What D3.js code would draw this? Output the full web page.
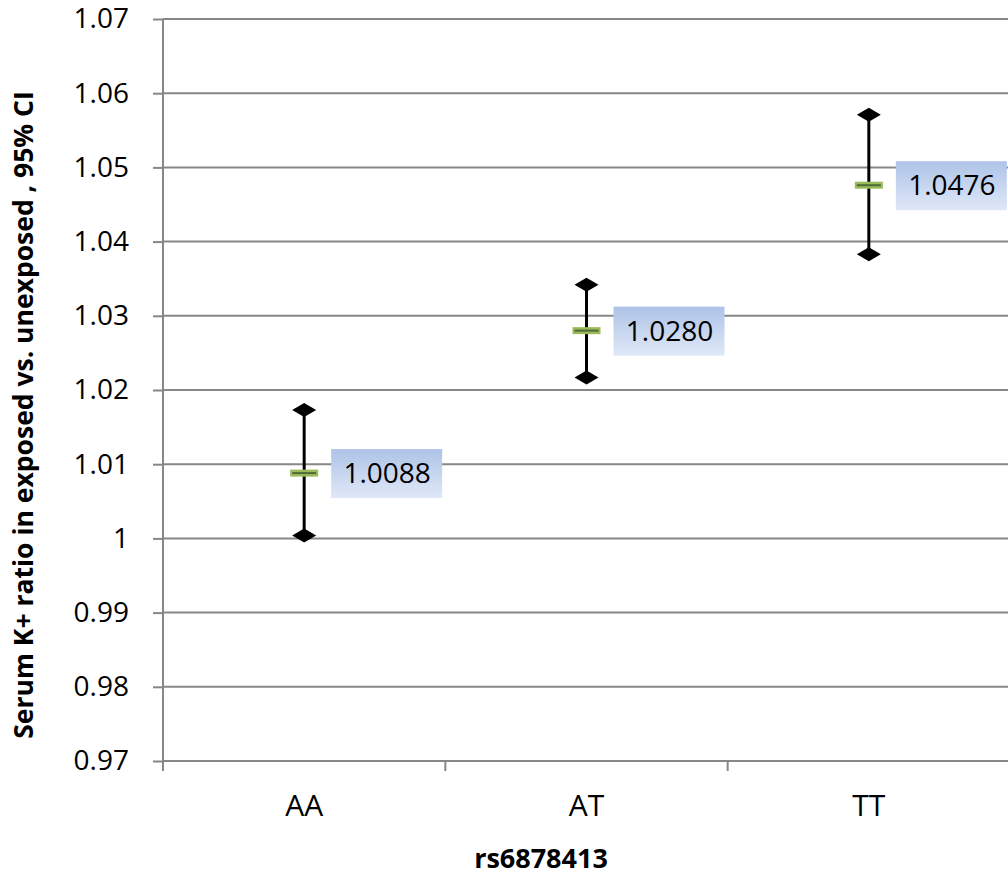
<!DOCTYPE html>
<html>
<head>
<meta charset="utf-8">
<script src="https://cdn.jsdelivr.net/npm/d3@7"></script>
<style>
  body { margin: 0; background: #fff; }
  svg { display: block; font-family: "Open Sans", "Liberation Sans", sans-serif; }
</style>
</head>
<body>
<svg id="chart"></svg>
<script>
// genotypes on the x axis
var genotypes = ["AA", "AT", "TT"];
// ratio point estimate and 95% CI bounds
var ratios = [1.0088, 1.0280, 1.0476];
var upperCI = [1.0173, 1.0342, 1.0571];
var lowerCI = [1.0004, 1.0217, 1.0383];
var labels = ["1.0088", "1.0280", "1.0476"];
var yTicks = [0.97, 0.98, 0.99, 1, 1.01, 1.02, 1.03, 1.04, 1.05, 1.06, 1.07];

var svgWidth = 1008, svgHeight = 876;
var margin = {top: 19, right: -2, bottom: 115, left: 163};
var width = svgWidth - margin.left - margin.right;
var height = svgHeight - margin.top - margin.bottom;

var svg = d3.select("#chart").attr("width", svgWidth).attr("height", svgHeight);

var defs = svg.append("defs");
var grad = defs.append("linearGradient").attr("id", "lblGrad")
    .attr("x1", 0).attr("y1", 0).attr("x2", 0).attr("y2", 1);
grad.append("stop").attr("offset", "0%").attr("stop-color", "#aec3e8");
grad.append("stop").attr("offset", "100%").attr("stop-color", "#dfe8f7");

var g = svg.append("g").attr("transform", "translate(" + margin.left + "," + margin.top + ")");

var x = d3.scaleBand().domain(genotypes).range([0, width]);
var y = d3.scaleLinear().domain([0.97, 1.07]).range([height, 0]);

// gridlines
g.append("g").selectAll("line")
  .data(yTicks.slice(1))
  .enter().append("line")
    .attr("x1", 0).attr("x2", width)
    .attr("y1", function(d) { return y(d); })
    .attr("y2", function(d) { return y(d); })
    .attr("stroke", "#878787").attr("stroke-width", 2);

// y axis
var yAxis = g.append("g")
  .call(d3.axisLeft(y).tickValues(yTicks).tickSize(10).tickPadding(24)
    .tickFormat(function(d) { return d3.format("")(+d.toFixed(2)); }));
yAxis.selectAll("line").attr("stroke", "#878787").attr("stroke-width", 2);
yAxis.select(".domain").attr("stroke", "#878787").attr("stroke-width", 2).attr("d", "M0,0V" + height);
yAxis.selectAll("text").attr("font-size", 28).attr("fill", "#000").attr("font-family", "Open Sans, sans-serif");

// x axis
var xAxis = g.append("g").attr("transform", "translate(0," + height + ")")
  .call(d3.axisBottom(x).tickSize(0).tickPadding(34));
xAxis.select(".domain").attr("stroke", "#878787").attr("stroke-width", 2).attr("d", "M0,0H" + width);
xAxis.selectAll("text").attr("font-size", 30).attr("fill", "#000").attr("font-family", "Open Sans, sans-serif");
xAxis.selectAll(".bt").data(genotypes.map(function(d) { return x(d); }).concat([width]))
  .enter().append("line").attr("class", "bt")
    .attr("x1", function(d) { return d; }).attr("x2", function(d) { return d; })
    .attr("y1", 0).attr("y2", 10)
    .attr("stroke", "#878787").attr("stroke-width", 2);

// axis titles
svg.append("text")
  .attr("transform", "translate(33," + (margin.top + height / 2 + 25) + ") rotate(-90)")
  .attr("text-anchor", "middle")
  .attr("font-size", 26.5).attr("font-weight", "bold")
  .text("Serum K+ ratio in exposed vs. unexposed , 95% CI");

svg.append("text")
  .attr("x", 541).attr("y", 868)
  .attr("text-anchor", "middle")
  .attr("font-size", 27).attr("font-weight", "bold")
  .text("rs6878413");

// error bars
var pts = g.selectAll(".pt")
  .data(genotypes.map(function(d, i) {
    return {key: d, v: ratios[i], hi: upperCI[i], lo: lowerCI[i], lbl: labels[i]};
  }))
  .enter().append("g").attr("class", "pt")
    .attr("transform", function(d) { return "translate(" + (x(d.key) + x.bandwidth() / 2) + ",0)"; });

pts.append("line")
  .attr("y1", function(d) { return y(d.hi); })
  .attr("y2", function(d) { return y(d.lo); })
  .attr("stroke", "#000").attr("stroke-width", 3);

var diamond = function(cy) { return "M-12," + cy + "L0," + (cy - 7) + "L12," + cy + "L0," + (cy + 7) + "Z"; };
pts.append("path").attr("d", function(d) { return diamond(y(d.hi)); }).attr("fill", "#000");
pts.append("path").attr("d", function(d) { return diamond(y(d.lo)); }).attr("fill", "#000");

// mean marker
pts.append("rect")
  .attr("x", -14).attr("width", 28)
  .attr("y", function(d) { return y(d.v) - 3.5; }).attr("height", 7)
  .attr("fill", "#9bbb59");
pts.append("line")
  .attr("x1", -12).attr("x2", 12)
  .attr("y1", function(d) { return y(d.v); })
  .attr("y2", function(d) { return y(d.v); })
  .attr("stroke", "#4f6b3a").attr("stroke-width", 2);

// value labels
pts.append("rect")
  .attr("x", 27).attr("width", 111)
  .attr("y", function(d) { return y(d.v) - 24; }).attr("height", 49)
  .attr("fill", "url(#lblGrad)");
pts.append("text")
  .attr("x", 83)
  .attr("y", function(d) { return y(d.v); })
  .attr("dy", "0.36em")
  .attr("text-anchor", "middle")
  .attr("font-size", 28)
  .text(function(d) { return d.lbl; });
</script>
</body>
</html>
